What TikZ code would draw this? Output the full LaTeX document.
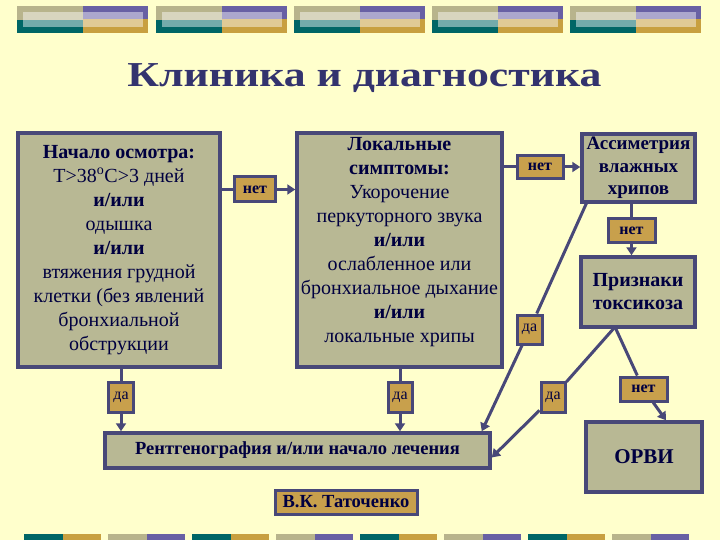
\documentclass[tikz,border=0pt]{standalone}
\usepackage{fontspec}
\setmainfont{Liberation Serif}
\usetikzlibrary{arrows.meta}

\definecolor{bgyellow}{RGB}{255,255,204}
\definecolor{boxfill}{RGB}{184,184,148}
\definecolor{boxline}{RGB}{72,72,120}
\definecolor{tagfill}{RGB}{200,160,76}
\definecolor{navy}{RGB}{0,0,64}
\definecolor{titleblue}{RGB}{51,51,110}
\definecolor{decoteal}{RGB}{0,102,102}
\definecolor{decogold}{RGB}{200,160,64}
\definecolor{decotan}{RGB}{184,180,140}
\definecolor{decopurple}{RGB}{104,96,164}

\begin{document}
\begin{tikzpicture}[x=1pt,y=-1pt]
  \tikzstyle{box}=[draw=boxline,line width=3.5pt,fill=boxfill,text=navy,align=center,inner sep=0pt,font=\fontsize{20}{24}\selectfont]
  \tikzstyle{boxtext}=[text=navy,align=center,inner sep=0pt,font=\fontsize{20}{24}\selectfont]
  \tikzstyle{tag}=[draw=boxline,line width=3pt,fill=tagfill,text=navy,inner sep=0pt,font=\fontsize{16}{18}\selectfont]
  \tikzstyle{link}=[draw=boxline,line width=3pt]
  \tikzstyle{arr}=[link,-{Triangle[length=8pt,width=10pt]}]

  \fill[bgyellow] (0,0) rectangle (720,540);
  \useasboundingbox (0,0) rectangle (720,540);

  % top and bottom strips
  \foreach \xa in {17,156,294,432,570} {
    \fill[decotan] (\xa,6) rectangle ++(66,14);
    \fill[decoteal] (\xa,20) rectangle ++(66,13);
    \fill[decopurple] (\xa+66,6) rectangle ++(65,13);
    \fill[decogold] (\xa+66,19) rectangle ++(65,14);
    \fill[white,opacity=0.45] (\xa+6,12) rectangle ++(120,15);
  }
  \foreach \xa/\ca/\cb in {24/decoteal/decogold,108/decotan/decopurple,
      192/decoteal/decogold,276/decotan/decopurple,360/decoteal/decogold,
      444/decotan/decopurple,528/decoteal/decogold,612/decotan/decopurple} {
    \fill[\ca] (\xa,534) rectangle ++(39,6);
    \fill[\cb] (\xa+39,534) rectangle ++(38,6);
  }

  \node[anchor=base,text=titleblue,font=\fontsize{35}{40}\selectfont\bfseries]
    (title) at (364.5,87) {\scalebox{1.25}[1]{Клиника и диагностика}};

  % boxes
  \node[box,minimum width=202,minimum height=234] (onset) at (119,250)
    {\textbf{Начало осмотра:}\\Т>38\textsuperscript{о}С>3 дней\\\textbf{и/или}\\одышка\\\textbf{и/или}\\
     втяжения грудной\\клетки (без явлений\\бронхиальной\\обструкции};
  \node[box,minimum width=205,minimum height=234] (mid) at (399.5,250) {};
  \node[boxtext] (midtext) at (399.5,242)
    {\textbf{Локальные}\\\textbf{симптомы:}\\Укорочение\\перкуторного звука\\\textbf{и/или}\\
     ослабленное или\\бронхиальное дыхание\\\textbf{и/или}\\локальные хрипы};
  \node[box,minimum width=113,minimum height=68,font=\fontsize{19}{22.5}\selectfont\bfseries]
    (assym) at (638.5,168) {Ассиметрия\\влажных\\хрипов};
  \node[box,minimum width=114,minimum height=70,font=\fontsize{20}{23}\selectfont\bfseries]
    (priz) at (638,292) {Признаки\\токсикоза};
  \node[box,minimum width=116,minimum height=70,font=\fontsize{21}{24}\selectfont\bfseries]
    (orvi) at (644,457) {ОРВИ};
  \node[box,minimum width=385,minimum height=35,font=\fontsize{18.5}{24}\selectfont\bfseries]
    (rentgen) at (297.5,450.5) {Рентгенография и/или начало лечения};
  \node[tag,minimum width=142,minimum height=24,font=\fontsize{18.5}{20}\selectfont\bfseries]
    (author) at (346,502) {В.К. Таточенко};

  % yes / no tags
  \node[tag,minimum width=41,minimum height=25] (net1) at (255,189.5) {\textbf{нет}};
  \node[tag,minimum width=46,minimum height=23] (net2) at (540,167) {\textbf{нет}};
  \node[tag,minimum width=47,minimum height=23] (net3) at (631.5,230.5) {\textbf{нет}};
  \node[tag,minimum width=47,minimum height=24] (net4) at (643.5,389) {\textbf{нет}};
  \node[tag,minimum width=25,minimum height=30] (da1) at (121,397) {да};
  \node[tag,minimum width=25,minimum height=29] (da2) at (529.5,329.5) {да};
  \node[tag,minimum width=24,minimum height=30] (da3) at (553,397) {да};
  \node[tag,minimum width=24,minimum height=30] (da4) at (400,397) {да};

  \coordinate (assymfoot) at (587,202);
  \coordinate (prizfoot) at (615,327);

  % connectors
  \path[link] (onset.east |- net1) -- (net1);
  \path[arr] (net1) -- (mid.west |- net1);
  \path[link] (mid.east |- net2) -- (net2);
  \path[arr] (net2) -- (assym.west |- net2);
  \path[link] (assym.south -| net3) -- (net3);
  \path[arr] (net3) -- (priz.north -| net3);
  \path[link] (assymfoot) -- (da2);
  \path[arr] (da2) -- ([xshift=-10pt]rentgen.north east);
  \path[link] (prizfoot) -- (da3);
  \path[arr] (da3) -- ([yshift=-7pt]rentgen.east);
  \path[link] (prizfoot) -- (net4);
  \path[arr] (net4) -- ([xshift=22pt]orvi.north);
  \path[link] (onset.south -| da1) -- (da1);
  \path[arr] (da1) -- (rentgen.north -| da1);
  \path[link] (mid.south -| da4) -- (da4);
  \path[arr] (da4) -- (rentgen.north -| da4);
\end{tikzpicture}
\end{document}
